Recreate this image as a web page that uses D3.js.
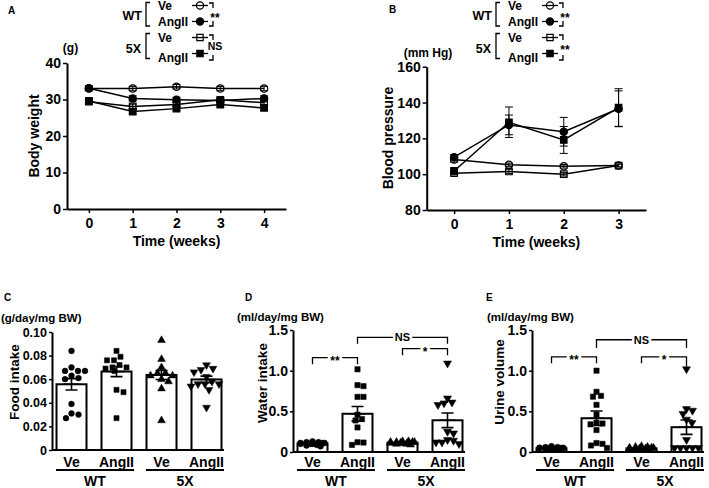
<!DOCTYPE html>
<html><head><meta charset="utf-8">
<script src="https://cdn.jsdelivr.net/npm/d3@7"></script>
<style>
body{margin:0;background:#fff;}
svg text{font-family:"Liberation Sans",Arial,Helvetica,sans-serif;font-weight:bold;fill:#000;}
</style></head><body>
<svg id="c" width="709" height="488" style="background:#fff"></svg>
<script>
// ---------- DATA ----------
// Panel A: body weight (g)
const weeksA = [0, 1, 2, 3, 4];
const bwWTVe = [33.0, 33.0, 33.5, 33.0, 33.0];
const bwWTVeSem = [0.6, 0.6, 0.6, 0.6, 0.6];
const bwWTAng = [33.1, 30.3, 29.9, 29.7, 30.3];
const bwWTAngSem = [0.7, 0.7, 0.7, 0.7, 0.7];
const bw5XVe = [29.4, 28.1, 28.6, 29.9, 29.1];
const bw5XVeSem = [0.6, 0.6, 0.6, 0.6, 0.6];
const bw5XAng = [29.6, 26.7, 27.5, 28.6, 27.7];
const bw5XAngSem = [0.6, 0.6, 0.6, 0.6, 0.6];
const ticksA = [0, 10, 20, 30, 40];

// Panel B: blood pressure (mm Hg)
const weeksB = [0, 1, 2, 3];
const bpWTVe = [108.2, 105.2, 104.4, 104.9];
const bpWTVeSem = [1.5, 1.0, 1.0, 0.8];
const bpWTAng = [109.5, 127.5, 123.7, 136.5];
const bpWTAngSem = [1.5, 5.5, 8.0, 10.0];
const bp5XVe = [100.5, 101.5, 100.0, 104.8];
const bp5XVeSem = [1.0, 1.2, 1.0, 0.8];
const bp5XAng = [101.8, 129.0, 119.1, 137.2];
const bp5XAngSem = [1.5, 8.5, 7.5, 10.5];
const ticksB = [80, 100, 120, 140, 160];

// Bottom panels
const treatments = ["Ve", "AngII", "Ve", "AngII"];
const genotypes = ["WT", "5X"];

// Panel C: food intake
const foodMean = [0.0557, 0.0665, 0.0636, 0.0598];
const foodSem = [0.0048, 0.0043, 0.0038, 0.0028];
const foodWTVe = [0.084, 0.067, 0.070, 0.067, 0.067, 0.063, 0.061, 0.060, 0.039, 0.031, 0.027, 0.030];
const foodWTAng = [0.084, 0.079, 0.076, 0.076, 0.070, 0.069, 0.072, 0.067, 0.070, 0.051, 0.049, 0.027];
const food5XVe = [0.093, 0.077, 0.070, 0.065, 0.065, 0.063, 0.063, 0.058, 0.060, 0.052, 0.025];
const food5XAng = [0.072, 0.068, 0.069, 0.056, 0.056, 0.054, 0.056, 0.058, 0.051, 0.036, 0.062, 0.066];
const ticksC = [0, 0.02, 0.04, 0.06, 0.08, 0.10];

// Panel D: water intake
const waterMean = [0.105, 0.47, 0.115, 0.39];
const waterSem = [0.007, 0.09, 0.006, 0.09];
const waterWTVe = [0.10, 0.11, 0.12, 0.09, 0.13, 0.08, 0.10, 0.11, 0.12, 0.07, 0.11, 0.10];
const waterWTAng = [1.017, 0.81, 0.822, 0.678, 0.678, 0.459, 0.388, 0.405, 0.302, 0.12, 0.087, 0.116];
const water5XVe = [0.11, 0.12, 0.13, 0.10, 0.12, 0.11, 0.13, 0.09, 0.12, 0.11, 0.10, 0.12];
const water5XAng = [1.09, 0.66, 0.61, 0.60, 0.58, 0.25, 0.23, 0.15, 0.12, 0.10, 0.12, 0.14];
const ticksD = [0, 0.5, 1.0, 1.5];

// Panel E: urine volume
const urineMean = [0.045, 0.415, 0.045, 0.305];
const urineSem = [0.005, 0.09, 0.005, 0.088];
const urineWTVe = [0.05, 0.04, 0.06, 0.03, 0.05, 0.07, 0.04, 0.05, 0.03, 0.06, 0.04, 0.05];
const urineWTAng = [1.0, 0.74, 0.69, 0.68, 0.58, 0.46, 0.36, 0.35, 0.34, 0.27, 0.10, 0.05, 0.08, 0.11];
const urine5XVe = [0.04, 0.05, 0.03, 0.06, 0.04, 0.07, 0.05, 0.03, 0.04, 0.06, 0.05, 0.04];
const urine5XAng = [1.02, 0.53, 0.51, 0.47, 0.40, 0.36, 0.15, 0.05, 0.05, 0.05, 0.05, 0.05];
const ticksE = [0, 0.5, 1.0, 1.5];

// ---------- DRAW ----------
const svg = d3.select("#c");
const sym = {
  circle: d3.symbolCircle, square: d3.symbolSquare,
  triangle: d3.symbolTriangle, triangleDown: d3.symbolTriangle
};

function styleAxis(sel, fs) {
  sel.attr("font-family", null).attr("font-size", null);
  sel.select(".domain").attr("stroke", "#000").attr("stroke-width", 2);
  sel.selectAll(".tick line").attr("stroke", "#000").attr("stroke-width", 1.5);
  sel.selectAll(".tick text").style("font-size", fs + "px");
}

function marker(g, type, x, y, size, filled) {
  return g.append("path")
    .attr("d", d3.symbol().type(sym[type]).size(size)())
    .attr("transform", `translate(${x},${y})` + (type === "triangleDown" ? " rotate(180)" : ""))
    .attr("fill", filled ? "#000" : "none")
    .attr("stroke", "#000").attr("stroke-width", 1.2);
}

function txt(x, y, s, fs, anchor) {
  return svg.append("text").attr("x", x).attr("y", y).text(s)
    .style("font-size", fs + "px").attr("text-anchor", anchor || "start");
}

function linePanel(o) {
  const x = d3.scaleLinear().domain([-0.5, o.weeks.length - 0.5]).range([o.x0, o.x1]);
  const y = d3.scaleLinear().domain(o.yDom).range([o.yb, o.yt]);
  const g = svg.append("g");
  g.append("g").attr("transform", `translate(${o.x0},0)`)
    .call(d3.axisLeft(y).tickValues(o.yTicks).tickSize(4).tickSizeOuter(0).tickPadding(2))
    .call(s => styleAxis(s, 14));
  g.append("g").attr("transform", `translate(0,${o.yb})`)
    .call(d3.axisBottom(x).tickValues(o.weeks).tickFormat(d3.format("d")).tickSize(4).tickSizeOuter(0).tickPadding(5))
    .call(s => styleAxis(s, 14));
  const line = d3.line().x((d, i) => x(o.weeks[i])).y(d => y(d));
  o.series.forEach(s => {
    g.append("path").attr("d", line(s.v)).attr("fill", "none").attr("stroke", "#000").attr("stroke-width", 1.5);
  });
  o.series.forEach(s => {
    s.v.forEach((v, i) => {
      const cx = x(o.weeks[i]), a = y(v - s.e[i]), b = y(v + s.e[i]);
      g.append("path").attr("d", `M${cx},${a}V${b}M${cx - 4},${a}H${cx + 4}M${cx - 4},${b}H${cx + 4}`)
        .attr("stroke", "#000").attr("stroke-width", 1).attr("fill", "none");
    });
  });
  o.series.forEach(s => {
    s.v.forEach((v, i) => marker(g, s.shape, x(o.weeks[i]), y(v), 42, s.filled));
  });
  txt((o.x0 + o.x1) / 2, o.yb + 36.5, "Time (weeks)", 14, "middle");
  svg.append("text").attr("transform", `translate(${o.titleX},${o.titleY}) rotate(-90)`)
    .attr("text-anchor", "middle").attr("dy", "0.35em").style("font-size", "14px").text(o.title);
}

function legend(dx, sig1, sig2) {
  const g = svg.append("g").attr("transform", `translate(${dx},0)`);
  const L = (d) => g.append("path").attr("d", d).attr("fill", "none").attr("stroke", "#000").attr("stroke-width", 1.3);
  const T = (x, y, s, fs, a) => g.append("text").attr("x", x).attr("y", y).text(s).style("font-size", fs + "px").attr("text-anchor", a || "start");
  T(142, 20, "WT", 12.5, "end");
  T(141, 52.5, "5X", 12.5, "end");
  L("M150,2.5H146V26H150");
  L("M150,33.5H146V58.5H150");
  T(158, 10, "Ve", 12); T(158, 26, "AngII", 12);
  T(158, 41.5, "Ve", 12); T(158, 61.5, "AngII", 12);
  const items = [[5.5, "circle", false], [21.5, "circle", true], [37.5, "square", false], [53.5, "square", true]];
  items.forEach(([yy, sh, f]) => {
    L(`M192,${yy}H208`);
    marker(g, sh, 200, yy, 40, f);
  });
  L("M209,3H213V8"); L("M213,21V26H209");
  L("M209,35H213V40"); L("M213,55V60H209");
  T(215, 22, sig1, 12, "middle");
  T(215, sig2 === "NS" ? 50 : 54, sig2, sig2 === "NS" ? 10.5 : 12, "middle");
}

// Panel A
txt(8, 14, "A", 10);
legend(0, "**", "NS");
txt(70.5, 52, "(g)", 12, "middle");
linePanel({
  x0: 67, x1: 286, yb: 209, yt: 63, yDom: [0, 40], yTicks: ticksA, weeks: weeksA,
  title: "Body weight", titleX: 34, titleY: 136,
  series: [
    { v: bwWTVe, e: bwWTVeSem, shape: "circle", filled: false },
    { v: bw5XVe, e: bw5XVeSem, shape: "square", filled: false },
    { v: bwWTAng, e: bwWTAngSem, shape: "circle", filled: true },
    { v: bw5XAng, e: bw5XAngSem, shape: "square", filled: true }
  ]
});

// Panel B
txt(389, 13, "B", 10);
legend(350, "**", "**");
txt(428, 56.5, "(mm Hg)", 12, "middle");
linePanel({
  x0: 426.7, x1: 646, yb: 210, yt: 66.7, yDom: [80, 160], yTicks: ticksB, weeks: weeksB,
  title: "Blood pressure", titleX: 388.3, titleY: 138,
  series: [
    { v: bpWTVe, e: bpWTVeSem, shape: "circle", filled: false },
    { v: bp5XVe, e: bp5XVeSem, shape: "square", filled: false },
    { v: bpWTAng, e: bpWTAngSem, shape: "circle", filled: true },
    { v: bp5XAng, e: bp5XAngSem, shape: "square", filled: true }
  ]
});

// Beeswarm placement computed from values
function swarm(vals, cx, y, halfW, d) {
  const order = vals.map((v, i) => i).sort((a, b) => vals[b] - vals[a]);
  const placed = [], xs = new Array(vals.length);
  for (const i of order) {
    const py = y(vals[i]);
    let best = null;
    for (let k = 0; k <= 60 && best === null; k++) {
      for (const s of (k === 0 ? [0] : [k, -k])) {
        const px = cx + s * 0.5;
        if (Math.abs(px - cx) > halfW) continue;
        if (placed.every(p => (p.x - px) ** 2 + (p.y - py) ** 2 >= d * d)) { best = px; break; }
      }
    }
    if (best === null) best = cx + (placed.length % 2 ? 1 : -1) * (placed.length % 7) * 2;
    placed.push({ x: best, y: py }); xs[i] = best;
  }
  return xs;
}

const shapes = ["circle", "square", "triangle", "triangleDown"];
function barPanel(o) {
  const x = d3.scaleBand().domain([0, 1, 2, 3]).range([o.x0 + 4.5, o.x0 + 169.5]).paddingInner(1 / 3).paddingOuter(0);
  const y = d3.scaleLinear().domain([0, o.yMax]).range([o.yb, o.yt]);
  const g = svg.append("g");
  const cx = i => x(i) + x.bandwidth() / 2;
  g.selectAll("rect.bar").data(o.means).join("rect")
    .attr("x", (d, i) => x(i)).attr("y", d => y(d))
    .attr("width", x.bandwidth()).attr("height", d => o.yb - y(d))
    .attr("fill", "#fff").attr("stroke", "#000").attr("stroke-width", 2);
  o.points.forEach((vals, i) => {
    const xs = swarm(vals, cx(i), y, x.bandwidth() / 2 + 1, o.dot);
    vals.forEach((v, j) => marker(g, shapes[i], xs[j], y(v), o.msize, true).attr("stroke-width", 0.5));
  });
  o.means.forEach((m, i) => {
    const c = cx(i), a = y(m - o.sems[i]), b = y(m + o.sems[i]);
    g.append("path").attr("d", `M${c},${a}V${b}M${c - 6},${a}H${c + 6}M${c - 6},${b}H${c + 6}M${c - 8},${y(m)}H${c + 8}`)
      .attr("stroke", "#000").attr("stroke-width", 1.6).attr("fill", "none");
  });
  g.append("g").attr("transform", `translate(${o.x0},0)`)
    .call(d3.axisLeft(y).tickValues(o.ticks).tickFormat(o.fmt).tickSize(3).tickSizeOuter(0).tickPadding(2))
    .call(s => styleAxis(s, o.tickFs));
  g.append("path").attr("d", `M${o.x0},${o.yb}H${o.x0 + 172}`).attr("stroke", "#000").attr("stroke-width", 2);
  treatments.forEach((t, i) => txt(cx(i), 467, t, 14, "middle"));
  genotypes.forEach((gname, k) => {
    const l = x(2 * k) - 0.5, r = x(2 * k + 1) + x.bandwidth() + 2.5;
    g.append("path").attr("d", `M${l},470H${r}`).attr("stroke", "#000").attr("stroke-width", 2);
    txt((l + r) / 2, 485.5, gname, 14, "middle");
  });
  (o.brackets || []).forEach(br => {
    const xa = cx(br.a), xb = cx(br.b), yy = y(br.y), yd = y(br.y - br.drop), yd2 = y(br.y - (br.drop2 || br.drop));
    g.append("path").attr("d", `M${xa},${yd}V${yy}H${xb}V${yd2}`).attr("fill", "none").attr("stroke", "#000").attr("stroke-width", 1.3);
    const isStar = br.label.indexOf("*") >= 0;
    g.append("text").attr("x", (xa + xb) / 2).attr("y", yy + (isStar ? 7 : 4)).text(br.label)
      .attr("text-anchor", "middle").style("font-size", (isStar ? 12 : 11) + "px")
      .attr("stroke", "#fff").attr("stroke-width", 5).attr("paint-order", "stroke");
  });
  svg.append("text").attr("transform", `translate(${o.titleX},${o.titleY}) rotate(-90)`)
    .attr("text-anchor", "middle").attr("dy", "0.35em").style("font-size", "13.5px").text(o.title);
  txt(o.unitX, o.unitY, o.unit, 11.5, "start");
  txt(o.letterX, 301, o.letter, 10, "start");
}

const fmtC = d => d === 0 ? "0" : d3.format(".2f")(d);
const fmtD = d => d === 0 ? "0" : d3.format(".1f")(d);

barPanel({
  x0: 52, yb: 450, yt: 332, yMax: 0.10, ticks: ticksC, fmt: fmtC, tickFs: 12.5,
  means: foodMean, sems: foodSem, points: [foodWTVe, foodWTAng, food5XVe, food5XAng],
  dot: 7, msize: 26,
  title: "Food intake", titleX: 14, titleY: 382,
  unit: "(g/day/mg BW)", unitX: 1, unitY: 322, letter: "C", letterX: 4
});
barPanel({
  x0: 293, yb: 452, yt: 330, yMax: 1.5, ticks: ticksD, fmt: fmtD, tickFs: 14,
  means: waterMean, sems: waterSem, points: [waterWTVe, waterWTAng, water5XVe, water5XAng],
  dot: 6, msize: 28,
  title: "Water intake", titleX: 262, titleY: 383,
  unit: "(ml/day/mg BW)", unitX: 237, unitY: 321, letter: "D", letterX: 245,
  brackets: [
    { a: 0, b: 1, label: "**", y: 1.16, drop: 0.08 },
    { a: 1, b: 3, label: "NS", y: 1.41, drop: 0.08 },
    { a: 2, b: 3, label: "*", y: 1.27, drop: 0.08 }
  ]
});
barPanel({
  x0: 532, yb: 452, yt: 330, yMax: 1.5, ticks: ticksE, fmt: fmtD, tickFs: 14,
  means: urineMean, sems: urineSem, points: [urineWTVe, urineWTAng, urine5XVe, urine5XAng],
  dot: 6, msize: 28,
  title: "Urine volume", titleX: 499, titleY: 382,
  unit: "(ml/day/mg BW)", unitX: 487, unitY: 321, letter: "E", letterX: 486,
  brackets: [
    { a: 0, b: 1, label: "**", y: 1.17, drop: 0.08 },
    { a: 1, b: 3, label: "NS", y: 1.38, drop: 0.1 },
    { a: 2, b: 3, label: "*", y: 1.17, drop: 0.08, drop2: 0.12 }
  ]
});
</script>
</body></html>
